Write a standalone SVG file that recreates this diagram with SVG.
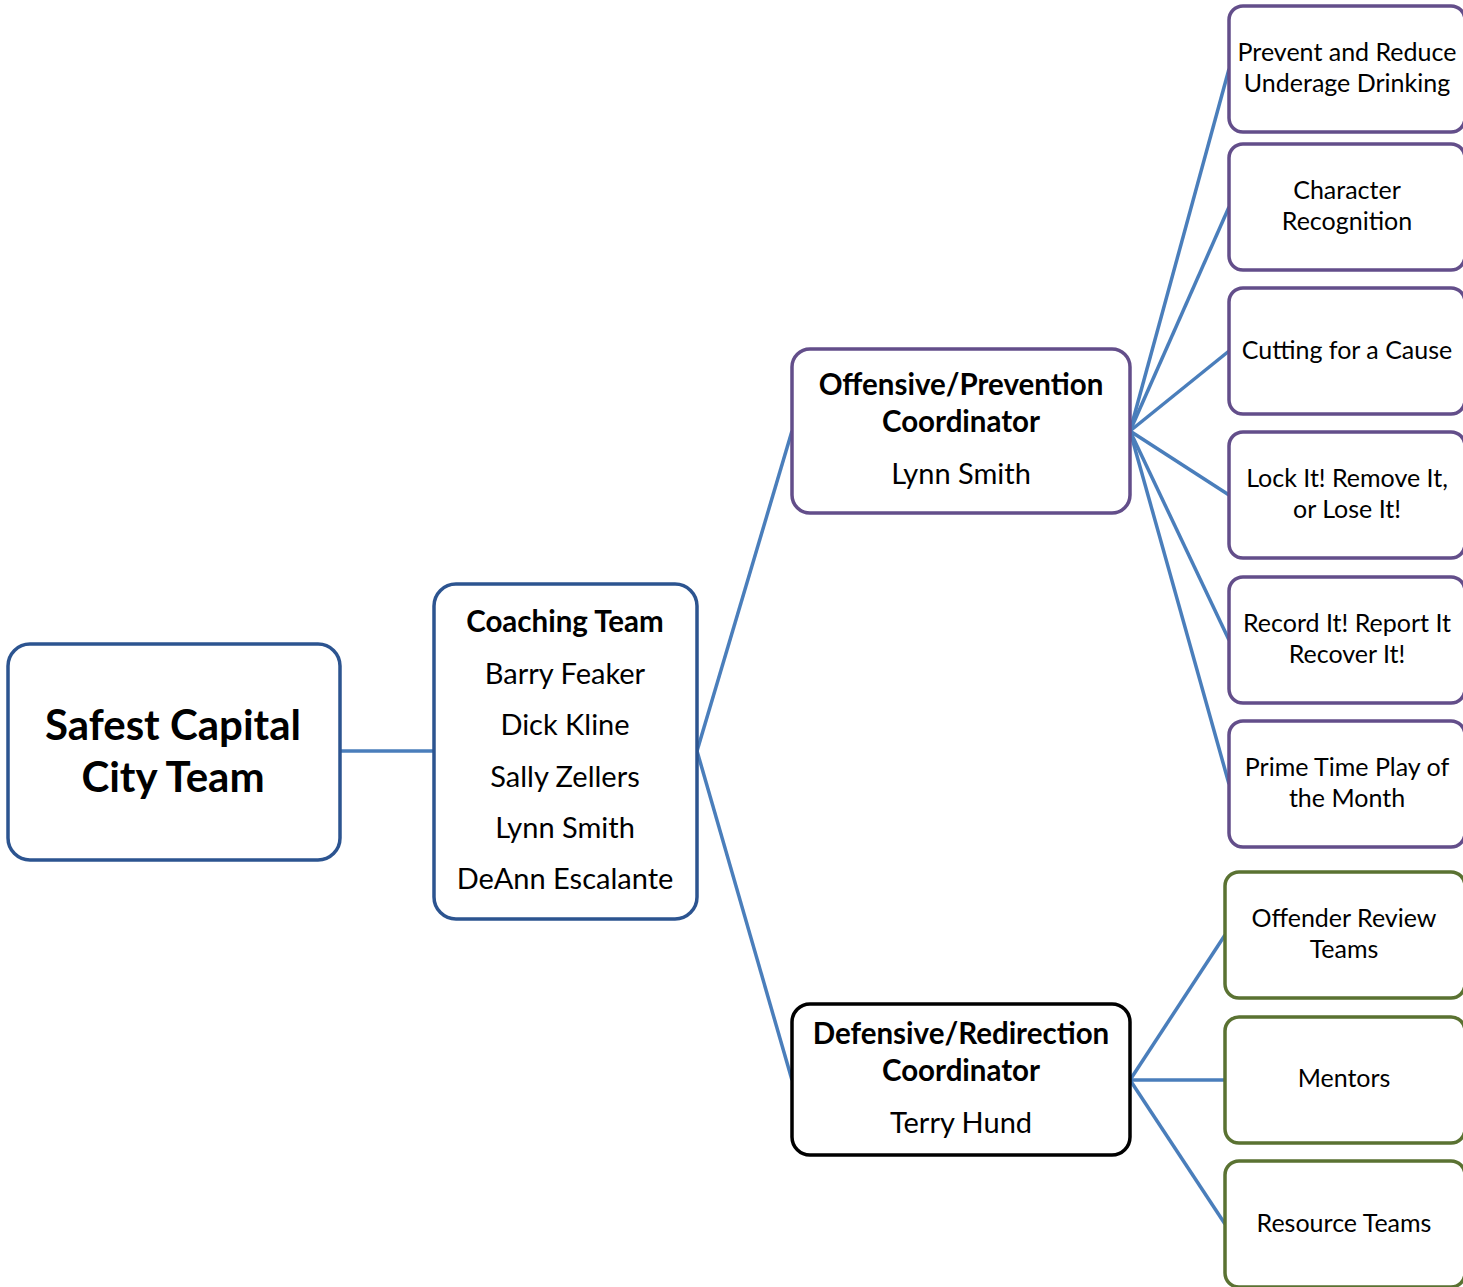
<svg xmlns="http://www.w3.org/2000/svg" width="1463" height="1287" viewBox="0 0 1463 1287">
<style>
.box{fill:#fff;stroke-width:3.5}
.blue{stroke:#2C5490}
.purple{stroke:#634E8A}
.black{stroke:#000}
.green{stroke:#5A7232}
.conn line{stroke:#4A7EBB;stroke-width:3.5}
text{font-family:Lato,"Open Sans","Liberation Sans",sans-serif;fill:#000;text-anchor:middle}
.b{font-weight:bold}
.t40{font-size:42px}
.t28{font-size:29px}
.tb28{font-size:29.5px}
.t24{font-size:25px}
</style>
<rect width="1463" height="1287" fill="#fff"/>
<g id="connectors" class="conn">
<line x1="340" y1="751" x2="434" y2="751"/>
<line x1="697" y1="751" x2="792" y2="431"/>
<line x1="697" y1="751" x2="792" y2="1080"/>
<line x1="1130" y1="431" x2="1229" y2="69"/>
<line x1="1130" y1="431" x2="1229" y2="207"/>
<line x1="1130" y1="431" x2="1229" y2="351"/>
<line x1="1130" y1="431" x2="1229" y2="495"/>
<line x1="1130" y1="431" x2="1229" y2="640"/>
<line x1="1130" y1="431" x2="1229" y2="784"/>
<line x1="1130" y1="1080" x2="1225" y2="935"/>
<line x1="1130" y1="1080" x2="1225" y2="1080"/>
<line x1="1130" y1="1080" x2="1225" y2="1224"/>
</g>
<g id="root">
<rect class="box blue" x="8" y="644" width="332" height="216" rx="22"/>
<text class="b t40" x="173" y="740">Safest Capital</text>
<text class="b t40" x="173" y="792">City Team</text>
</g>
<g id="coaching">
<rect class="box blue" x="434" y="584" width="263" height="335" rx="22"/>
<text class="b tb28" x="565" y="632">Coaching Team</text>
<text class="t28" x="565" y="684">Barry Feaker</text>
<text class="t28" x="565" y="735">Dick Kline</text>
<text class="t28" x="565" y="787">Sally Zellers</text>
<text class="t28" x="565" y="838">Lynn Smith</text>
<text class="t28" x="565" y="889">DeAnn Escalante</text>
</g>
<g id="offensive">
<rect class="box purple" x="792" y="349" width="338" height="164" rx="18"/>
<text class="b tb28" x="961" y="395">Offensive/Prevention</text>
<text class="b tb28" x="961" y="432">Coordinator</text>
<text class="t28" x="961" y="484">Lynn Smith</text>
</g>
<g id="defensive">
<rect class="box black" x="792" y="1004" width="338" height="151" rx="18"/>
<text class="b tb28" x="961" y="1044">Defensive/Redirection</text>
<text class="b tb28" x="961" y="1081">Coordinator</text>
<text class="t28" x="961" y="1133">Terry Hund</text>
</g>
<g id="underage">
<rect class="box purple" x="1229" y="6" width="236" height="126" rx="14"/>
<text class="t24" x="1347" y="61">Prevent and Reduce</text>
<text class="t24" x="1347" y="92">Underage Drinking</text>
</g>
<g id="character">
<rect class="box purple" x="1229" y="144" width="236" height="126" rx="14"/>
<text class="t24" x="1347" y="199">Character</text>
<text class="t24" x="1347" y="230">Recognition</text>
</g>
<g id="cutting">
<rect class="box purple" x="1229" y="288" width="236" height="126" rx="14"/>
<text class="t24" x="1347" y="359">Cutting for a Cause</text>
</g>
<g id="lock">
<rect class="box purple" x="1229" y="432" width="236" height="126" rx="14"/>
<text class="t24" x="1347" y="487">Lock It! Remove It,</text>
<text class="t24" x="1347" y="518">or Lose It!</text>
</g>
<g id="record">
<rect class="box purple" x="1229" y="577" width="236" height="126" rx="14"/>
<text class="t24" x="1347" y="632">Record It! Report It</text>
<text class="t24" x="1347" y="663">Recover It!</text>
</g>
<g id="prime">
<rect class="box purple" x="1229" y="721" width="236" height="126" rx="14"/>
<text class="t24" x="1347" y="776">Prime Time Play of</text>
<text class="t24" x="1347" y="807">the Month</text>
</g>
<g id="offender">
<rect class="box green" x="1225" y="872" width="240" height="126" rx="14"/>
<text class="t24" x="1344" y="927">Offender Review</text>
<text class="t24" x="1344" y="958">Teams</text>
</g>
<g id="mentors">
<rect class="box green" x="1225" y="1017" width="240" height="126" rx="14"/>
<text class="t24" x="1344" y="1087">Mentors</text>
</g>
<g id="resource">
<rect class="box green" x="1225" y="1161" width="240" height="126" rx="14"/>
<text class="t24" x="1344" y="1232">Resource Teams</text>
</g>
</svg>
